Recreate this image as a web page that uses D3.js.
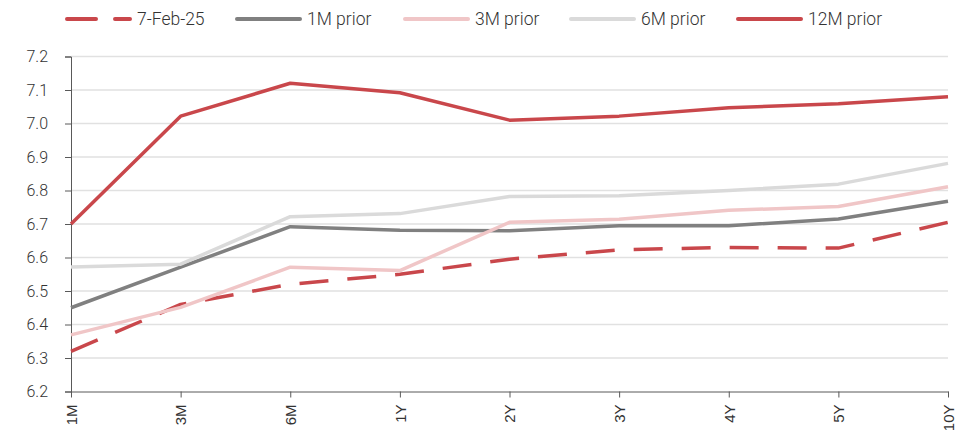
<!DOCTYPE html>
<html>
<head>
<meta charset="utf-8">
<script src="https://cdn.jsdelivr.net/npm/d3@7"></script>
<style>
  body { margin: 0; background: #fff; }
  svg { display: block; }
</style>
</head>
<body>
<script>
// tenors on the x axis
const tenors = ['1M', '3M', '6M', '1Y', '2Y', '3Y', '4Y', '5Y', '10Y']
const yTicks = [6.2, 6.3, 6.4, 6.5, 6.6, 6.7, 6.8, 6.9, 7.0, 7.1, 7.2]

// curve values
const feb7 = [6.32, 6.46, 6.52, 6.55, 6.595, 6.623, 6.63, 6.628, 6.705]
const prior1M = [6.45, 6.571, 6.692, 6.681, 6.68, 6.695, 6.695, 6.715, 6.768]
const prior3M = [6.369, 6.451, 6.571, 6.561, 6.705, 6.714, 6.741, 6.752, 6.811]
const prior6M = [6.572, 6.58, 6.722, 6.731, 6.782, 6.784, 6.80, 6.819, 6.881]
const prior12M = [6.70, 7.022, 7.12, 7.092, 7.01, 7.022, 7.047, 7.059, 7.08]

const seriesNames = ['7-Feb-25', '1M prior', '3M prior', '6M prior', '12M prior']

const width = 971, height = 435
const margin = {top: 56.5, right: 23, bottom: 43.5, left: 71}

const series = [
    {name: seriesNames[0], values: feb7, color: '#C9474B', dash: '29,19'},
    {name: seriesNames[1], values: prior1M, color: '#808080', dash: null},
    {name: seriesNames[2], values: prior3M, color: '#F0C6C7', dash: null},
    {name: seriesNames[3], values: prior6M, color: '#DADADA', dash: null},
    {name: seriesNames[4], values: prior12M, color: '#C9474B', dash: null}
]

const svg = d3.select('body').append('svg')
    .attr('width', width)
    .attr('height', height)

const xScale = d3.scalePoint()
    .domain(tenors)
    .range([margin.left, width - margin.right])

const yScale = d3.scaleLinear()
    .domain([6.2, 7.2])
    .range([height - margin.bottom, margin.top])

// gridlines
svg.append('g')
    .selectAll('line')
    .data(yTicks.slice(1))
    .enter()
    .append('line')
        .attr('x1', margin.left)
        .attr('x2', width - margin.right)
        .attr('y1', d => yScale(d))
        .attr('y2', d => yScale(d))
        .attr('stroke', '#E1E1E1')
        .attr('stroke-width', 1.3)

// y axis
const yAxis = svg.append('g')
    .attr('transform', 'translate(' + margin.left + ',0)')
    .call(d3.axisLeft(yScale).tickValues(yTicks).tickFormat(d3.format('.1f')).tickSize(6).tickPadding(17))
yAxis.select('.domain').attr('stroke', '#595959')
yAxis.selectAll('.tick line').attr('stroke', '#595959')
yAxis.selectAll('text')
    .style('font-family', 'Roboto, sans-serif')
    .style('font-weight', 300)
    .style('font-size', '16px')
    .attr('fill', '#333')

// x axis
const xAxis = svg.append('g')
    .attr('transform', 'translate(0,' + (height - margin.bottom) + ')')
    .call(d3.axisBottom(xScale).tickSize(6).tickSizeOuter(0))
xAxis.select('.domain').attr('stroke', '#595959')
xAxis.selectAll('.tick line').attr('stroke', '#595959')
xAxis.selectAll('text')
    .attr('y', 0)
    .attr('dy', '0.35em')
    .attr('transform', 'translate(0,13)rotate(-90)')
    .style('text-anchor', 'end')
    .style('font-family', '"Liberation Sans", Arial, sans-serif')
    .style('font-size', '15px')
    .attr('fill', '#333')

// lines
const line = d3.line()
    .x((d, i) => xScale(tenors[i]))
    .y(d => yScale(d))

svg.append('g')
    .selectAll('path')
    .data(series)
    .enter()
    .append('path')
        .attr('d', d => line(d.values))
        .attr('fill', 'none')
        .attr('stroke', d => d.color)
        .attr('stroke-width', 3.5)
        .attr('stroke-linejoin', 'round')
        .attr('stroke-dasharray', d => d.dash)

// legend
const legendX = [65, 235, 403, 569, 736]
const legend = svg.append('g')
    .selectAll('g')
    .data(series)
    .enter()
    .append('g')
        .attr('transform', (d, i) => 'translate(' + legendX[i] + ',19)')

legend.append('line')
    .attr('x1', 2)
    .attr('x2', 65)
    .attr('stroke', d => d.color)
    .attr('stroke-width', 4)
    .attr('stroke-linecap', 'round')
    .attr('stroke-dasharray', d => d.dash)

legend.append('text')
    .attr('x', 72)
    .attr('dy', '0.35em')
    .style('font-family', 'Roboto, sans-serif')
    .style('font-weight', 300)
    .style('font-size', '17.5px')
    .attr('fill', '#333')
    .text(d => d.name)
</script>
</body>
</html>
